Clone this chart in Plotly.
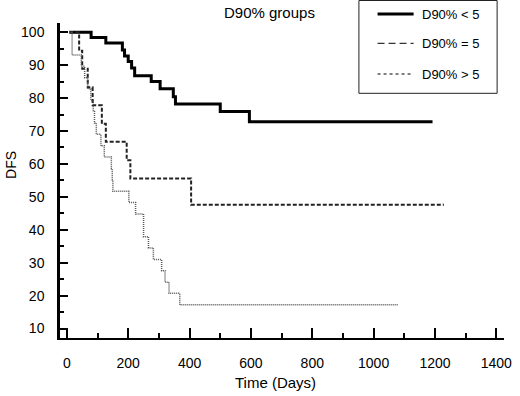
import plotly.graph_objects as go

# ---- data ----
series_names = ["D90% < 5", "D90% = 5", "D90% > 5"]

t_lt5 = [8, 79, 127, 181, 188, 200, 211, 221, 275, 304, 347, 354, 500, 595, 1192]
s_lt5 = [100, 98.4, 96.7, 94.6, 92.8, 91.1, 89.1, 86.8, 85.0, 82.8, 80.4, 78.2, 75.9, 72.8, 72.8]

t_eq5 = [8, 40, 50, 68, 84, 114, 127, 195, 207, 405, 1229]
s_eq5 = [100, 94.4, 88.9, 83.3, 77.8, 72.2, 66.7, 61.1, 55.6, 47.6, 47.6]

t_gt5 = [8, 17, 47, 58, 68, 78, 86, 90, 96, 111, 122, 145, 148, 150, 202, 224, 250, 266, 282, 309, 320, 333, 368, 1080]
s_gt5 = [100, 93.1, 89.7, 86.2, 82.8, 79.3, 75.9, 72.4, 69.0, 65.5, 62.1, 58.6, 55.2, 51.7, 48.3, 44.8, 37.9, 34.5, 31.0, 27.6, 24.1, 20.7, 17.2, 17.2]

x_ticks = [0, 200, 400, 600, 800, 1000, 1200, 1400]
y_ticks = [10, 20, 30, 40, 50, 60, 70, 80, 90, 100]

FONT = "Arial, Liberation Sans, sans-serif"

fig = go.Figure()
fig.add_trace(go.Scatter(x=t_lt5, y=s_lt5, mode="lines", line_shape="hv",
                         line=dict(color="black", width=3), name=series_names[0]))
fig.add_trace(go.Scatter(x=t_eq5, y=s_eq5, mode="lines", line_shape="hv",
                         line=dict(color="#222222", width=2, dash="4px,2px"), name=series_names[1]))
fig.add_trace(go.Scatter(x=t_gt5, y=s_gt5, mode="lines", line_shape="hv",
                         line=dict(color="#555555", width=1.5, dash="1px,1px"), name=series_names[2]))

fig.update_layout(
    width=520, height=396,
    margin=dict(l=60, r=8, t=23, b=58),
    plot_bgcolor="white", paper_bgcolor="white",
    showlegend=False,
    font=dict(family=FONT, color="black"),
)

fig.update_xaxes(
    range=[-22.4, 1425], tickvals=x_ticks, ticktext=[str(v) for v in x_ticks],
    ticks="inside", ticklen=10, tickwidth=1.5, tickcolor="black",
    minor=dict(ticks="inside", ticklen=5, dtick=100, tick0=0, tickcolor="black", tickwidth=1.5),
    showline=True, linewidth=2, linecolor="black",
    showgrid=False, zeroline=False, tickfont=dict(size=14, family=FONT),
    ticklabelstandoff=11,
)
fig.update_yaxes(
    range=[7.14, 102.8], tickvals=y_ticks, ticktext=[str(v) for v in y_ticks],
    ticks="inside", ticklen=8, tickwidth=1.5, tickcolor="black",
    minor=dict(ticks="inside", ticklen=4, dtick=5, tick0=0, tickcolor="black", tickwidth=1.5),
    showline=True, linewidth=2.5, linecolor="black",
    showgrid=False, zeroline=False, tickfont=dict(size=14, family=FONT),
    ticklabelstandoff=10,
)

# plot area on screen: x 60..512, y 23..338 (px)
def px(xp):
    return (xp - 60) / 452.0

def py(yp):
    return (338 - yp) / 315.0

annotations = [
    dict(text="D90% groups", x=px(273), y=py(12.3), xref="paper", yref="paper",
         xanchor="center", yanchor="middle", showarrow=False, font=dict(size=15, family=FONT)),
    dict(text="Time (Days)", x=px(279), y=py(382.7), xref="paper", yref="paper",
         xanchor="center", yanchor="middle", showarrow=False, font=dict(size=15, family=FONT)),
    dict(text="DFS", x=px(10), y=py(165), xref="paper", yref="paper", textangle=-90,
         xanchor="center", yanchor="middle", showarrow=False, font=dict(size=14, family=FONT)),
]

# legend box (manual)
shapes = [dict(type="rect", xref="paper", yref="paper", x0=px(364.3), x1=px(505),
               y0=py(93.3), y1=py(0.5), line=dict(color="#222222", width=1), fillcolor="white")]
leg_rows = [14, 43.3, 74]
leg_styles = [dict(color="black", width=3), dict(color="black", width=1, dash="7px,4px"),
              dict(color="black", width=1, dash="3px,3px")]
for name, yr, st in zip(series_names, leg_rows, leg_styles):
    shapes.append(dict(type="line", xref="paper", yref="paper", x0=px(383.3), x1=px(420),
                       y0=py(yr), y1=py(yr), line=st))
    annotations.append(dict(text=name, x=px(426.7), y=py(yr), xref="paper", yref="paper",
                            xanchor="left", yanchor="middle", showarrow=False,
                            font=dict(size=13, family=FONT)))

fig.update_layout(annotations=annotations, shapes=shapes)
# remove the browser's default 8px body margin so the figure sits at the page origin
fig.write_html("out.html", config={"displayModeBar": False},
               post_script="document.body.style.margin='0px';")
